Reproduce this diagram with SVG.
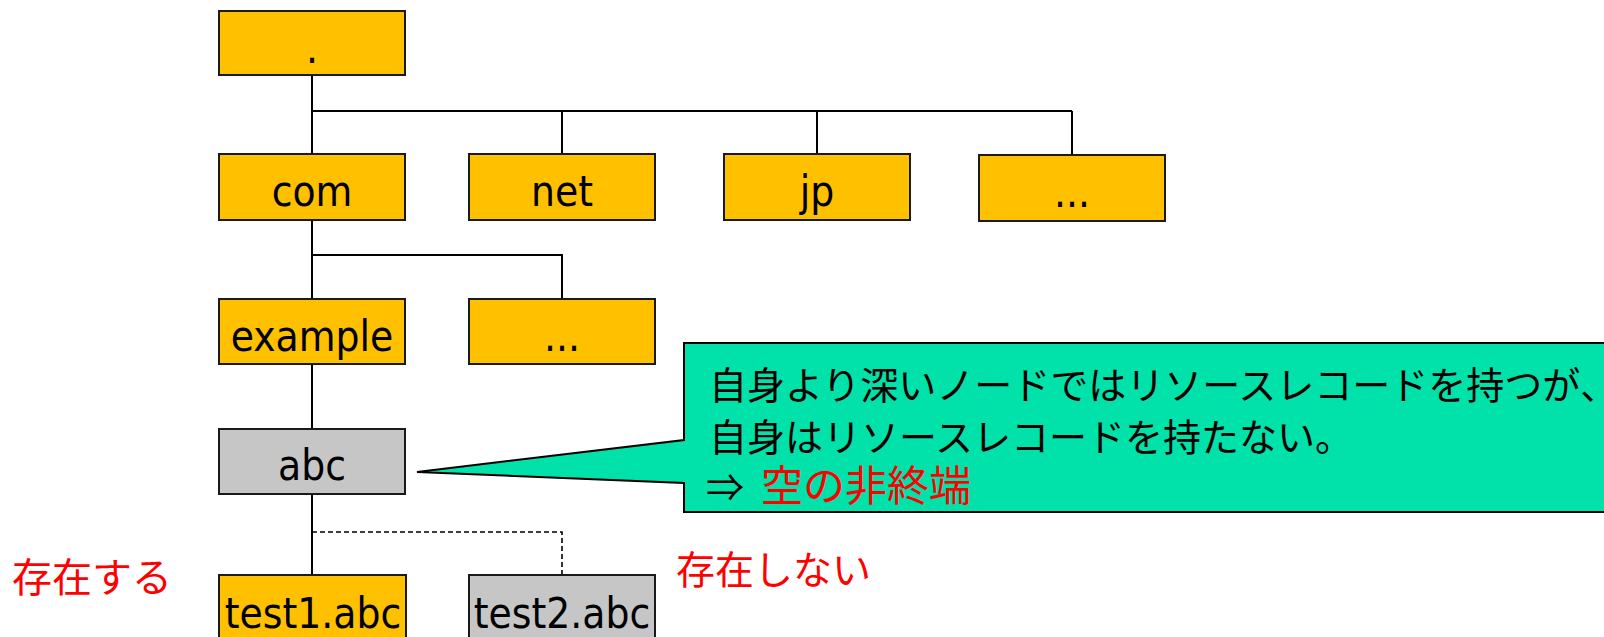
<svg xmlns="http://www.w3.org/2000/svg" width="1604" height="637" viewBox="0 0 1604 637">
<style>
.bg{fill:#ffffff}
.n{stroke:#1a1a1a;stroke-width:2}
.y{fill:#FFC000}
.g{fill:#C6C6C6}
.t{font-family:"DejaVu Sans Condensed","DejaVu Sans",sans-serif;font-size:42px;fill:#000;text-anchor:middle;font-stretch:condensed}
.c{fill:none;stroke:#000;stroke-width:2}
.d{fill:none;stroke:#000;stroke-width:1.6;stroke-dasharray:5 3}
.j{font-family:"Noto Sans CJK JP","Noto Sans CJK SC",sans-serif;font-size:38px;fill:#000}
.r{fill:#FF0000}
</style>
<rect class="bg" x="0" y="0" width="1604" height="637"/>
<g id="connectors">
<path class="c" d="M312,75 V154 M312,111 H1072 M562,111 V154 M817,111 V154 M1072,111 V155"/>
<path class="c" d="M312,220 V299 M312,255 H562 V299"/>
<path class="c" d="M312,364 V429"/>
<path class="c" d="M312,494 V575"/>
<path class="d" d="M312,532 H562 V575"/>
</g>
<g id="root"><rect class="n y" x="219" y="11" width="186" height="64"/><text class="t" x="312" y="63">.</text></g>
<g id="com"><rect class="n y" x="219" y="154" width="186" height="66"/><text class="t" x="312" y="206">com</text></g>
<g id="net"><rect class="n y" x="469" y="154" width="186" height="66"/><text class="t" x="562" y="206">net</text></g>
<g id="jp"><rect class="n y" x="724" y="154" width="186" height="66"/><text class="t" x="817" y="206">jp</text></g>
<g id="tld-more"><rect class="n y" x="979" y="155" width="186" height="66"/><text class="t" x="1072" y="207">...</text></g>
<g id="example"><rect class="n y" x="219" y="299" width="186" height="65"/><text class="t" x="312" y="351">example</text></g>
<g id="com-more"><rect class="n y" x="469" y="299" width="186" height="65"/><text class="t" x="562" y="351">...</text></g>
<g id="abc"><rect class="n g" x="219" y="429" width="186" height="65"/><text class="t" x="312" y="480">abc</text></g>
<g id="test1"><rect class="n y" x="219" y="575" width="187" height="70"/><text class="t" x="313" y="628">test1.abc</text></g>
<g id="test2"><rect class="n g" x="469" y="575" width="186" height="70"/><text class="t" x="562" y="628">test2.abc</text></g>
<g id="callout">
<path d="M684,343 H1612 V512 H684 V483 L417,472 L684,440 Z" fill="#00E2AA" stroke="#000" stroke-width="2"/>
<text class="j" x="709" y="399">自身より深いノードではリソースレコードを持つが<tspan style="font-feature-settings:'palt'">、</tspan></text>
<text class="j" x="709" y="451">自身はリソースレコードを持たない。</text>
<text class="j" x="706" y="501">⇒<tspan class="r" x="761" style="font-size:42px">空の非終端</tspan></text>
</g>
<g id="label-exists"><text class="j r" x="12" y="592" style="font-size:40px">存在する</text></g>
<g id="label-notexists"><text class="j r" x="676" y="584" style="font-size:39px">存在しない</text></g>
</svg>
